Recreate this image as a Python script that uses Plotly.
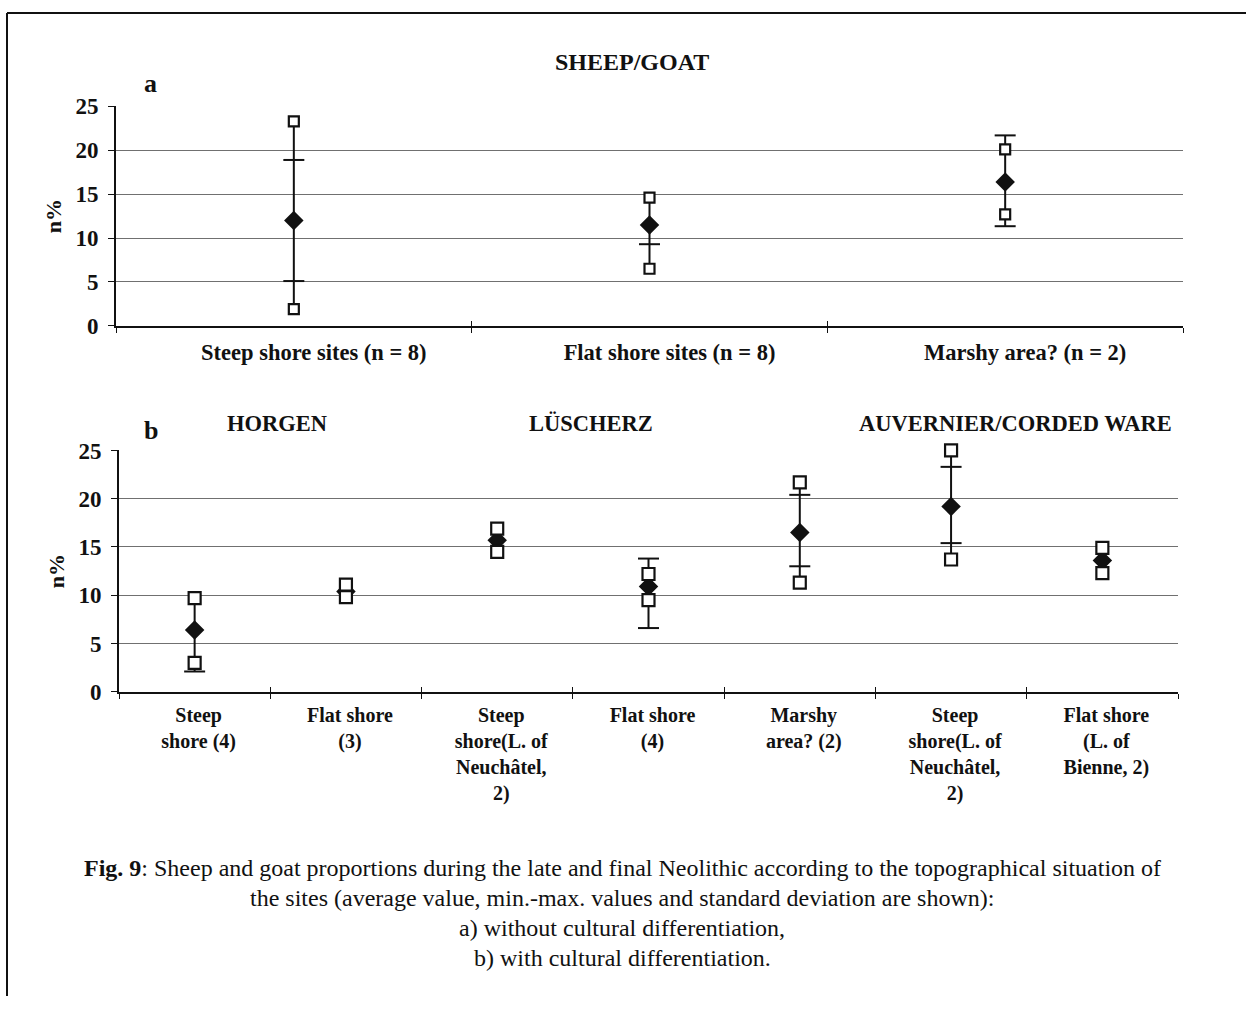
import plotly.graph_objects as go

W, H = 1249, 1009

# ---- Panel a: sheep/goat without cultural differentiation ----
labels_a = ["Steep shore sites (n = 8)", "Flat shore sites (n = 8)", "Marshy area? (n = 2)"]
mean_a = [12.0, 11.5, 16.4]
min_a = [1.9, 6.5, 12.7]
max_a = [23.3, 14.6, 20.1]
sd_hi_a = [18.9, None, 21.7]   # mean + standard deviation
sd_lo_a = [5.1, 9.3, 11.35]    # mean - standard deviation

# ---- Panel b: with cultural differentiation ----
groups_b = ["HORGEN", "LÜSCHERZ", "AUVERNIER/CORDED WARE"]
labels_b = [
    "Steep<br>shore (4)",
    "Flat shore<br>(3)",
    "Steep<br>shore(L. of<br>Neuchâtel,<br>2)",
    "Flat shore<br>(4)",
    "Marshy<br>area? (2)",
    "Steep<br>shore(L. of<br>Neuchâtel,<br>2)",
    "Flat shore<br>(L. of<br>Bienne, 2)",
]
mean_b = [6.4, 10.4, 15.7, 10.9, 16.5, 19.2, 13.6]
min_b = [3.0, 9.8, 14.5, 9.5, 11.3, 13.7, 12.3]
max_b = [9.7, 11.1, 16.9, 12.2, 21.7, 25.0, 14.9]
sd_hi_b = [None, None, None, 13.8, 20.4, 23.3, None]
sd_lo_b = [2.1, None, None, 6.6, 13.0, 15.4, None]

y_ticks = [0, 5, 10, 15, 20, 25]

SERIF = "Liberation Serif"
INK = "#111111"

fig = go.Figure()


def add_panel(xref, yref, overlay, means, mins, maxs, hi, lo, sq_size):
    xs = list(range(1, len(means) + 1))
    # vertical line covering min-max and the standard deviation range
    lx, ly = [], []
    for x, m0, m1, h, l in zip(xs, mins, maxs, hi, lo):
        bottom = min(v for v in (m0, l) if v is not None)
        top = max(v for v in (m1, h) if v is not None)
        lx += [x, x, None]
        ly += [bottom, top, None]
    common = dict(xaxis=xref, yaxis=yref, showlegend=False, hoverinfo="skip",
                  cliponaxis=False)
    fig.add_trace(go.Scatter(x=lx, y=ly, mode="lines",
                             line=dict(color=INK, width=2), **common))
    # standard deviation caps
    cx = [x for x, v in zip(xs, hi) if v is not None] + [x for x, v in zip(xs, lo) if v is not None]
    cy = [v for v in hi if v is not None] + [v for v in lo if v is not None]
    fig.add_trace(go.Scatter(x=cx, y=cy, mode="markers",
                             marker=dict(symbol="line-ew", size=15,
                                         line=dict(color=INK, width=2)), **common))
    # average value
    fig.add_trace(go.Scatter(x=xs, y=means, mode="markers",
                             marker=dict(symbol="diamond", size=15, color=INK,
                                         line=dict(width=0)), **common))
    # min and max values
    fig.add_trace(go.Scatter(x=xs + xs, y=mins + maxs, mode="markers",
                             marker=dict(symbol="square", size=sq_size, color="white",
                                         line=dict(color=INK, width=2.2)), **common))
    # empty helper trace so the overlay tick axis gets drawn
    fig.add_trace(go.Scatter(x=[None], y=[None], xaxis=overlay, yaxis=yref,
                             showlegend=False, hoverinfo="skip"))


add_panel("x", "y", "x3", mean_a, min_a, max_a, sd_hi_a, sd_lo_a, 10)
add_panel("x2", "y2", "x4", mean_b, min_b, max_b, sd_hi_b, sd_lo_b, 12)


# page-pixel helpers
def px(x):
    return x / W


def py(y):
    return 1 - ((y - 11.3) / 0.978) / H


def xdom(x0, x1):
    return [px(x0), px(x1)]


def ydom(y0, y1):
    return [py(y1), py(y0)]


tickfont = dict(family=SERIF, size=23, color=INK, weight="bold")


def x_main(n, labels, dom, anchor, standoff, size, shift):
    return dict(domain=dom, anchor=anchor, range=[0.5, n + 0.5],
                tickmode="array", tickvals=list(range(1, n + 1)), ticktext=labels,
                ticks="", ticklabelstandoff=standoff, ticklabelshift=shift,
                tickfont=dict(family=SERIF, size=size, color=INK, weight="bold"),
                showgrid=False, zeroline=False, showline=True, linecolor=INK, linewidth=1.6,
                minor=dict(tickmode="array", tickvals=[i + 0.5 for i in range(n + 1)],
                           ticks="outside", ticklen=5, tickwidth=1.3, tickcolor=INK,
                           showgrid=False),
                fixedrange=True)


def x_overlay(n, dom, anchor, over):
    return dict(domain=dom, anchor=anchor, overlaying=over, range=[0.5, n + 0.5],
                tickmode="array", tickvals=[i + 0.5 for i in range(n + 1)],
                ticks="inside", ticklen=5, tickwidth=1.3, tickcolor=INK,
                showticklabels=False, showgrid=False, zeroline=False, showline=False)


def y_axis(dom, anchor):
    return dict(domain=dom, anchor=anchor, range=[0, 25], tickvals=y_ticks,
                ticks="outside", ticklen=6, tickwidth=1.3, tickcolor=INK,
                tickfont=tickfont, ticklabelstandoff=5,
                showgrid=True, gridcolor="#707070", gridwidth=1.2,
                zeroline=False, showline=True, linecolor=INK, linewidth=1.6,
                title=dict(text="n%", font=dict(family=SERIF, size=22, color=INK, weight="bold"),
                           standoff=8))


fig.update_layout(
    width=W, height=H,
    margin=dict(l=0, r=0, t=0, b=0),
    paper_bgcolor="white", plot_bgcolor="white",
    showlegend=False,
    xaxis=x_main(3, labels_a, xdom(116, 1183), "y", 5, 22.5, 20),
    yaxis=y_axis(ydom(106, 326), "x"),
    xaxis3=x_overlay(3, xdom(116, 1183), "y", "x"),
    xaxis2=x_main(7, labels_b, xdom(119, 1178), "y2", 4, 20, 4),
    yaxis2=y_axis(ydom(451, 693), "x2"),
    xaxis4=x_overlay(7, xdom(119, 1178), "y2", "x2"),
)

ann = []


def text(x, y, s, size, bold=True):
    ann.append(dict(x=px(x), y=py(y), xref="paper", yref="paper",
                    text=s, showarrow=False, xanchor="center", yanchor="middle",
                    font=dict(family=SERIF, size=size, color=INK,
                              weight="bold" if bold else "normal")))


text(632, 61, "SHEEP/GOAT", 24)
text(150, 83, "a", 26)
text(151, 431, "b", 26)
for cx, g in zip([277, 591, 1015], groups_b):
    text(cx, 424, g, 22.5)

caption = [
    "<b>Fig. 9</b>: Sheep and goat proportions during the late and final Neolithic according to the topographical situation of",
    "the sites (average value, min.-max. values and standard deviation are shown):",
    "a) without cultural differentiation,",
    "b) with cultural differentiation.",
]
for i, line in enumerate(caption):
    text(622, 870 + 30 * i, line, 24, bold=False)

fig.update_layout(annotations=ann)

# page frame (top and left rules)
top = min(py(8), 1 - 1 / H)
fig.add_shape(type="line", xref="paper", yref="paper", x0=px(7), x1=px(1246),
              y0=top, y1=top, line=dict(color=INK, width=2))
fig.add_shape(type="line", xref="paper", yref="paper", x0=px(7), x1=px(7),
              y0=top, y1=0, line=dict(color=INK, width=2))

fig.write_html("out.html")
